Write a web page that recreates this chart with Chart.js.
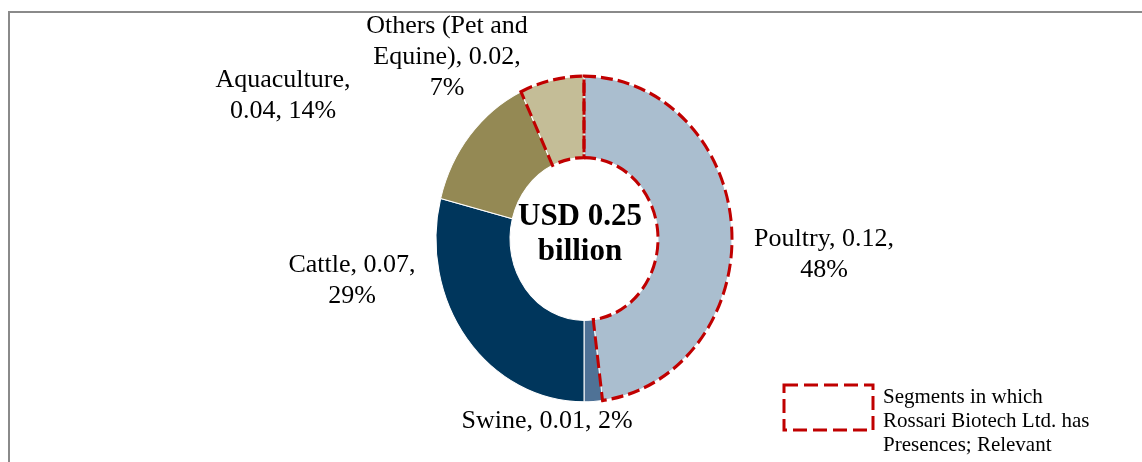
<!DOCTYPE html>
<html>
<head>
<meta charset="utf-8">
<title>Animal feed market segments</title>
<script src="https://cdn.jsdelivr.net/npm/chart.js@4.4.0/dist/chart.umd.min.js"></script>
<style>
  html, body { margin: 0; padding: 0; background: #fff; overflow: hidden; }
  #wrap { position: relative; width: 1142px; height: 462px; overflow: hidden; }
  #frame { position: absolute; left: 8px; top: 11px; width: 1200px; height: 520px; border: 2px solid #8a8a8a; box-sizing: border-box; }
  #chart { position: absolute; left: 0; top: 0; }
</style>
</head>
<body>
<div id="wrap">
  <div id="frame"></div>
  <canvas id="chart" width="1142" height="462"></canvas>
</div>
<script>
const segments = ['Poultry', 'Swine', 'Cattle', 'Aquaculture', 'Others (Pet and Equine)'];
const valuesBn = [0.12, 0.01, 0.07, 0.04, 0.02];
const sharePct = [48, 2, 29, 14, 7];
const relevant = [true, false, false, false, true];
const segColors = ['#AABECF', '#4F7296', '#00365C', '#948954', '#C4BD97'];
const totalLines = ['USD 0.25', 'billion'];
const legendLines = ['Segments in which', 'Rossari Biotech Ltd. has', 'Presences; Relevant'];

// where each data label sits: centre x, first baseline, wrap width
const labelLayout = [
  { x: 824, y: 246, w: 160 },
  { x: 547, y: 428, w: 210 },
  { x: 352, y: 272, w: 140 },
  { x: 283, y: 87, w: 150 },
  { x: 447, y: 33, w: 175 }
];

const SERIF = '"Liberation Serif", "Times New Roman", serif';
const RED = '#C00000';
const stretchY = 1.1; // ring is drawn slightly taller than wide

function wrapText(ctx, text, maxW) {
  const words = text.split(' ');
  const lines = [];
  let line = '';
  words.forEach(w => {
    const test = line ? line + ' ' + w : w;
    if (line && ctx.measureText(test).width > maxW) {
      lines.push(line);
      line = w;
    } else {
      line = test;
    }
  });
  lines.push(line);
  return lines;
}

const ringPlugin = {
  id: 'ring',
  beforeDatasetsDraw(chart) {
    const arc = chart.getDatasetMeta(0).data[0];
    const ctx = chart.ctx;
    ctx.save();
    ctx.translate(arc.x, arc.y);
    ctx.scale(1, stretchY);
    ctx.translate(-arc.x, -arc.y);
  },
  afterDatasetsDraw(chart) {
    const ctx = chart.ctx;
    const meta = chart.getDatasetMeta(0);
    ctx.lineWidth = 3;
    ctx.strokeStyle = RED;
    ctx.setLineDash([12, 5]);
    meta.data.forEach((arc, i) => {
      if (!relevant[i]) return;
      const p = arc.getProps(['x', 'y', 'startAngle', 'endAngle', 'innerRadius', 'outerRadius']);
      ctx.beginPath();
      ctx.arc(p.x, p.y, p.outerRadius, p.startAngle, p.endAngle);
      ctx.arc(p.x, p.y, p.innerRadius, p.endAngle, p.startAngle, true);
      ctx.closePath();
      ctx.stroke();
    });
    ctx.restore();
  },
  afterDraw(chart) {
    const ctx = chart.ctx;
    const arc = chart.getDatasetMeta(0).data[0];
    ctx.save();
    ctx.setLineDash([]);
    ctx.fillStyle = '#000';

    // total in the hole
    ctx.textAlign = 'center';
    ctx.textBaseline = 'alphabetic';
    ctx.font = 'bold 31px ' + SERIF;
    totalLines.forEach((t, k) => ctx.fillText(t, arc.x - 4, 225 + k * 35));

    // data labels
    ctx.font = '26px ' + SERIF;
    segments.forEach((name, i) => {
      const text = `${name}, ${valuesBn[i].toFixed(2)}, ${sharePct[i]}%`;
      const pos = labelLayout[i];
      wrapText(ctx, text, pos.w).forEach((line, k) => {
        ctx.fillText(line, pos.x, pos.y + k * 31);
      });
    });

    // legend for the dashed outline
    ctx.lineWidth = 3;
    ctx.strokeStyle = RED;
    ctx.setLineDash([14, 6]);
    ctx.strokeRect(784, 385, 89, 45);
    ctx.setLineDash([]);
    ctx.textAlign = 'left';
    ctx.font = '21px ' + SERIF;
    legendLines.forEach((t, k) => ctx.fillText(t, 883, 403 + k * 24));
    ctx.restore();
  }
};

new Chart(document.getElementById('chart'), {
  type: 'doughnut',
  data: {
    labels: segments,
    datasets: [{
      data: sharePct,
      backgroundColor: segColors,
      borderColor: '#ffffff',
      borderWidth: 1,
      radius: 148,
      cutout: '50%'
    }]
  },
  options: {
    responsive: false,
    animation: false,
    devicePixelRatio: 1,
    events: [],
    layout: { padding: { left: 26, right: 0, top: 16, bottom: 0 } },
    plugins: {
      legend: { display: false },
      tooltip: { enabled: false }
    }
  },
  plugins: [ringPlugin]
});
</script>
</body>
</html>
